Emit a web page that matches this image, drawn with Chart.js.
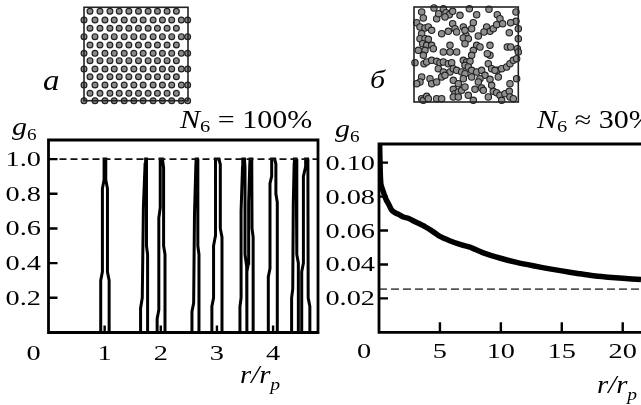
<!DOCTYPE html>
<html>
<head>
<meta charset="utf-8">
<script src="https://cdn.jsdelivr.net/npm/chart.js@4.4.1/dist/chart.umd.min.js"></script>
<style>
  body { margin: 0; background: #fff; width: 641px; height: 405px; overflow: hidden; position: relative; }
  .box { position: absolute; }
</style>
</head>
<body>
<div class="box" style="left:0;top:0"><canvas id="leftChart" width="320" height="405"></canvas></div>
<div class="box" style="left:320px;top:0"><canvas id="rightChart" width="321" height="405"></canvas></div>
<div class="box" style="left:76px;top:0"><canvas id="latticeInset" width="120" height="108"></canvas></div>
<div class="box" style="left:404px;top:0"><canvas id="randomInset" width="124" height="110"></canvas></div>
<script>
// --- panel a: g6(r) for the perfect lattice, peaks as outlines [x, y] ---
const leftXTicks = [1, 2, 3, 4];
const leftYTicks = [0.2, 0.4, 0.6, 0.8, 1.0];
const leftYLabels = ['0.2', '0.4', '0.6', '0.8', '1.0'];
const leftDashed = 1.0;
const peak1 = [[0.93,0],[0.93,0.30],[0.96,0.35],[0.96,0.83],[0.99,0.88],[0.99,1.0],[1.02,1.0],[1.02,0.88],[1.05,0.83],[1.05,0.35],[1.08,0.30],[1.08,0]];
const peak2 = [[1.64,0],[1.64,0.14],[1.67,0.2],[1.69,0.72],[1.72,0.97],[1.73,1.0],[1.745,1.0],[1.745,0.5],[1.765,0.45],[1.765,0]];
const peak3 = [[1.935,0],[1.935,0.08],[1.965,0.13],[1.965,0.66],[1.99,0.72],[1.99,1.0],[2.03,1.0],[2.05,0.95],[2.05,0.5],[2.075,0.45],[2.075,0]];
const peak4 = [[2.555,0],[2.555,0.12],[2.585,0.17],[2.6,0.68],[2.625,0.97],[2.63,1.0],[2.655,1.0],[2.66,0.5],[2.68,0.45],[2.68,0]];
const peak5 = [[2.91,0],[2.91,0.15],[2.94,0.2],[2.94,0.5],[2.975,0.56],[2.975,1.0],[3.035,1.0],[3.06,0.97],[3.06,0.6],[3.09,0.55],[3.09,0]];
const peak6 = [[3.41,0],[3.41,0.15],[3.43,0.2],[3.43,0.7],[3.455,0.95],[3.46,1.0],[3.49,1.0],[3.5,0.95],[3.5,0.45],[3.53,0.38],[3.53,0]];
const peak7 = [[3.535,0],[3.535,0.35],[3.56,0.4],[3.565,0.75],[3.585,0.97],[3.59,1.0],[3.62,1.0],[3.625,0.6],[3.645,0.55],[3.645,0]];
const peak8 = [[3.915,0],[3.915,0.32],[3.945,0.37],[3.945,0.86],[3.975,0.9],[3.975,1.0],[4.03,1.0],[4.05,0.97],[4.05,0.8],[4.075,0.75],[4.075,0]];
const peak9 = [[4.33,0],[4.33,0.2],[4.35,0.25],[4.36,0.75],[4.375,0.97],[4.38,1.0],[4.41,1.0],[4.42,0.9],[4.425,0.45],[4.45,0.4],[4.45,0]];
const peak10 = [[4.51,0],[4.51,0.35],[4.54,0.4],[4.54,0.9],[4.575,0.95],[4.58,1.0],[4.615,1.0],[4.62,0.97],[4.625,0.2],[4.655,0.15],[4.655,0]];
const leftPeaks = [peak1, peak2, peak3, peak4, peak5, peak6, peak7, peak8, peak9, peak10];

// --- panel б: g6(r) for the disordered system ---
const rightR = [0.05, 0.1, 0.16, 0.3, 0.44, 0.6, 0.76, 1.04, 1.3, 1.59, 2.0, 2.4, 3.0, 3.77, 4.4, 5.0, 5.8, 6.78, 7.46, 8.5, 10.05, 11.3, 12.65, 14.0, 15.0, 16.3, 17.6, 18.8, 20.0, 21.5];
const rightG6 = [0.1105, 0.095, 0.087, 0.084, 0.081, 0.078, 0.076, 0.072, 0.0705, 0.0696, 0.068, 0.0672, 0.065, 0.0623, 0.0595, 0.0565, 0.054, 0.0515, 0.0502, 0.047, 0.0435, 0.0412, 0.0392, 0.0374, 0.0362, 0.0347, 0.0333, 0.0325, 0.0318, 0.0311];
const rightXTicks = [5, 10, 15, 20];
const rightYTicks = [0.02, 0.04, 0.06, 0.08, 0.10];
const rightYLabels = ['0.02', '0.04', '0.06', '0.08', '0.10'];
const rightDashed = 0.0255;

// --- insets: particle positions in picture units ---
const latticeRowsA = [22, 73, 123, 170, 218, 268];
const latticeColsA = [30, 60, 90, 118, 147, 176, 205, 233, 262, 290];
const latticeRowsB = [48, 98, 148, 195, 243, 290];
const latticeColsB = [12, 45, 75, 103, 133, 162, 190, 220, 248, 276, 305, 324];
const disorderedPoints = [
  [35,30],[40,48],[72,18],[80,50],[86,35],[100,20],[108,32],[118,38],[128,28],[105,45],[150,40],[178,20],[200,38],[237,22],[262,38],[270,50],[318,30],[318,58],[302,62],[20,62],
  [30,75],[45,78],[55,75],[35,95],[65,85],[128,65],[135,80],[115,88],[140,90],[160,75],[190,62],[185,80],[230,75],[240,88],[222,90],[250,80],[260,68],[278,65],[298,92],[325,80],[95,95],[168,100],[205,102],[165,85],
  [30,110],[45,110],[55,112],[38,125],[50,130],[65,130],[25,145],[45,145],[70,140],[120,130],[160,108],[175,110],[165,125],[200,130],[210,135],[190,145],[240,130],[292,135],[302,135],[325,110],[322,140],[40,160],[100,150],[120,150],[140,150],[185,160],[240,160],[232,155],[325,150],
  [15,182],[42,185],[50,180],[65,175],[80,178],[90,182],[100,180],[115,185],[125,182],[160,175],[170,180],[180,178],[165,190],[175,195],[235,185],[262,205],[275,200],[290,195],[300,185],[310,175],[320,170],[85,200],[100,210],[120,210],[130,200],[140,205],[155,210],[165,215],[185,205],[200,210],[215,205],[225,220],[245,200],[255,205],
  [35,225],[30,240],[20,245],[60,230],[65,245],[80,240],[95,225],[105,220],[130,235],[145,245],[160,230],[185,225],[210,230],[205,240],[240,232],[265,225],[300,245],[320,230],[130,262],[135,275],[145,270],[155,265],[165,255],[195,262],[215,258],[220,265],[245,250],[250,268],[260,272],[270,280],[285,275],[298,268],[300,285],[310,290],
  [35,290],[40,295],[50,283],[55,290],[80,290],[95,290],[130,285],[145,285],[175,280],[190,295],[235,285],[275,295]
];

const SERIF = '"Liberation Serif", "Times New Roman", serif';

function richText(ctx, x, y, parts, align, stretch) {
  let w = 0;
  parts.forEach(p => { ctx.font = p[1]; w += ctx.measureText(p[0]).width; });
  let start = x;
  if (align === 'right') start = x - w * stretch;
  if (align === 'center') start = x - w * stretch / 2;
  ctx.save();
  ctx.translate(start, y);
  ctx.scale(stretch, 1);
  ctx.fillStyle = '#000';
  ctx.textAlign = 'left';
  ctx.textBaseline = 'alphabetic';
  let cx = 0;
  parts.forEach(p => {
    ctx.font = p[1];
    ctx.fillText(p[0], cx, p[2] || 0);
    cx += ctx.measureText(p[0]).width;
  });
  ctx.restore();
}

// frame, inward ticks and all labels of one panel
function panelDecor(cfg) {
  return {
    id: 'panelDecor',
    afterDraw(chart) {
      const ctx = chart.ctx;
      const { left, right, top, bottom } = chart.chartArea;
      const xs = chart.scales.x, ys = chart.scales.y;
      const farRight = cfg.rightEdge ? right : chart.width + 5;
      ctx.save();
      ctx.strokeStyle = '#000';
      ctx.lineWidth = 2.8;
      ctx.lineCap = 'square';
      ctx.beginPath();
      ctx.moveTo(left, bottom); ctx.lineTo(left, top); ctx.lineTo(farRight, top);
      if (cfg.rightEdge) ctx.lineTo(right, bottom);
      ctx.moveTo(left, bottom); ctx.lineTo(farRight, bottom);
      ctx.stroke();
      ctx.lineCap = 'butt';
      ctx.lineWidth = 2.4;
      ctx.beginPath();
      cfg.yTicks.forEach(v => {
        const py = ys.getPixelForValue(v);
        ctx.moveTo(left, py); ctx.lineTo(left + 9, py);
      });
      cfg.xTicks.forEach(v => {
        const px = xs.getPixelForValue(v);
        ctx.moveTo(px, bottom); ctx.lineTo(px, bottom - cfg.xTickLen);
      });
      ctx.stroke();
      ctx.restore();

      const tickFont = '21px ' + SERIF;
      cfg.yTicks.forEach((v, i) => {
        richText(ctx, cfg.yLabelRight, ys.getPixelForValue(v) + 7, [[cfg.yLabels[i], tickFont]], 'right', 1.35);
      });
      cfg.xTicks.forEach(v => {
        richText(ctx, xs.getPixelForValue(v), cfg.xLabelBase, [[String(v), tickFont]], 'center', 1.35);
      });
      richText(ctx, xs.getPixelForValue(0) - 15, cfg.xLabelBase, [['0', tickFont]], 'center', 1.35);
      cfg.texts.forEach(t => richText(ctx, t.x, t.y, t.parts, t.align || 'left', t.stretch));
    }
  };
}

function boxBorder(width) {
  return {
    id: 'boxBorder',
    afterDraw(chart) {
      const { left, right, top, bottom } = chart.chartArea;
      const ctx = chart.ctx;
      ctx.save();
      ctx.strokeStyle = '#222';
      ctx.lineWidth = width;
      ctx.strokeRect(left, top, right - left, bottom - top);
      ctx.restore();
    }
  };
}

const hidden = { ticks: { display: false }, grid: { display: false }, border: { display: false } };

// left panel
const leftSeries = [{ x: 0, y: 0 }];
leftPeaks.forEach(p => p.forEach(pt => leftSeries.push({ x: pt[0], y: pt[1] })));
leftSeries.push({ x: 4.8, y: 0 });

new Chart(document.getElementById('leftChart'), {
  type: 'line',
  data: {
    datasets: [
      { data: [{ x: 0, y: leftDashed }, { x: 4.8, y: leftDashed }], borderColor: '#111', borderWidth: 1.7, borderDash: [7, 4], pointRadius: 0 },
      { data: leftSeries, borderColor: '#000', borderWidth: 3, pointRadius: 0, tension: 0, clip: 3 }
    ]
  },
  options: {
    responsive: false, animation: false, devicePixelRatio: 1,
    layout: { padding: { left: 0, right: 2, top: 140, bottom: 0 } },
    plugins: { legend: { display: false }, tooltip: { enabled: false } },
    scales: {
      x: Object.assign({ type: 'linear', min: 0, max: 4.8, afterFit: s => { s.height = 72.5; } }, hidden),
      y: Object.assign({ min: 0, max: 1.11, afterFit: s => { s.width = 48.5; } }, hidden)
    }
  },
  plugins: [panelDecor({
    rightEdge: true, xTicks: leftXTicks, yTicks: leftYTicks, yLabels: leftYLabels,
    xTickLen: 7, yLabelRight: 41, xLabelBase: 360,
    texts: [
      { x: 12, y: 135, stretch: 1.2, parts: [['g', 'italic 25px ' + SERIF], ['6', '16px ' + SERIF, 5]] },
      { x: 240, y: 383, stretch: 1.15, parts: [['r/r', 'italic 25px ' + SERIF], ['p', 'italic 17px ' + SERIF, 7]] },
      { x: 180, y: 128, stretch: 1.2, parts: [['N', 'italic 25px ' + SERIF], ['6', '17px ' + SERIF, 4], [' = 100%', '25px ' + SERIF]] },
      { x: 43, y: 90, stretch: 1.1, parts: [['a', 'italic 30px ' + SERIF]] }
    ]
  })]
});

// right panel
new Chart(document.getElementById('rightChart'), {
  type: 'line',
  data: {
    datasets: [
      { data: [{ x: 0, y: rightDashed }, { x: 21.5, y: rightDashed }], borderColor: '#555', borderWidth: 1.7, borderDash: [8, 4], pointRadius: 0 },
      { data: rightR.map((r, i) => ({ x: r, y: rightG6[i] })), borderColor: '#000', borderWidth: 5.5, pointRadius: 0, tension: 0.25 }
    ]
  },
  options: {
    responsive: false, animation: false, devicePixelRatio: 1,
    layout: { padding: { left: 0, right: 0, top: 144, bottom: 0 } },
    plugins: { legend: { display: false }, tooltip: { enabled: false } },
    scales: {
      x: Object.assign({ type: 'linear', min: 0, max: 21.5, afterFit: s => { s.height = 72.7; } }, hidden),
      y: Object.assign({ min: 0, max: 0.111, afterFit: s => { s.width = 59; } }, hidden)
    }
  },
  plugins: [panelDecor({
    rightEdge: false, xTicks: rightXTicks, yTicks: rightYTicks, yLabels: rightYLabels,
    xTickLen: 10, yLabelRight: 55, xLabelBase: 358,
    texts: [
      { x: 15, y: 137, stretch: 1.2, parts: [['g', 'italic 25px ' + SERIF], ['6', '16px ' + SERIF, 5]] },
      { x: 277, y: 393, stretch: 1.15, parts: [['r/r', 'italic 25px ' + SERIF], ['p', 'italic 17px ' + SERIF, 7]] },
      { x: 217, y: 128, stretch: 1.2, parts: [['N', 'italic 25px ' + SERIF], ['6', '17px ' + SERIF, 4], [' ≈ 30%', '25px ' + SERIF]] },
      { x: 50, y: 88, stretch: 1.2, parts: [['б', 'italic 25px ' + SERIF]] }
    ]
  })]
});

// lattice inset
const latticePoints = [];
latticeRowsA.forEach(y => latticeColsA.forEach(x => latticePoints.push({ x, y })));
latticeRowsB.forEach(y => latticeColsB.forEach(x => latticePoints.push({ x, y })));

const insetOptions = (xmin, xmax, ymin, ymax, pad) => ({
  responsive: false, animation: false, devicePixelRatio: 1,
  layout: { padding: pad },
  plugins: { legend: { display: false }, tooltip: { enabled: false } },
  scales: {
    x: { type: 'linear', display: false, min: xmin, max: xmax },
    y: { type: 'linear', display: false, min: ymin, max: ymax, reverse: true }
  }
});

new Chart(document.getElementById('latticeInset'), {
  type: 'scatter',
  data: { datasets: [{ data: latticePoints, pointRadius: 2.9, pointBackgroundColor: '#8a8a8a', pointBorderColor: '#222', pointBorderWidth: 1.2, clip: false }] },
  options: insetOptions(12, 325, 10, 290, { left: 8, right: 8, top: 7.3, bottom: 7.3 }),
  plugins: [boxBorder(1.6)]
});

new Chart(document.getElementById('randomInset'), {
  type: 'scatter',
  data: { datasets: [{ data: disorderedPoints.map(p => ({ x: p[0], y: p[1] })), pointRadius: 3.2, pointBackgroundColor: '#8f8f8f', pointBorderColor: '#222', pointBorderWidth: 1.1, clip: false }] },
  options: insetOptions(12, 325, 15, 300, { left: 10, right: 9.7, top: 7, bottom: 8 }),
  plugins: [boxBorder(1.6)]
});
</script>
</body>
</html>
